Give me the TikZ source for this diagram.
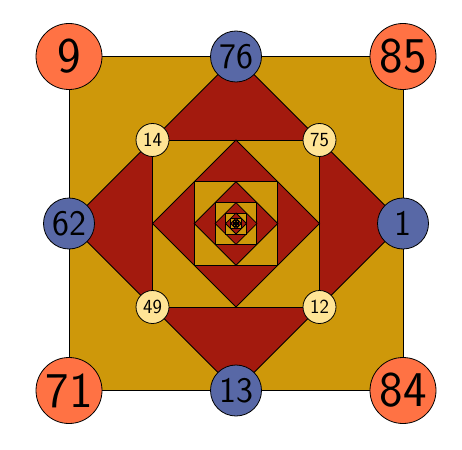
\documentclass[tikz,border=0pt]{standalone}
\usepackage{tikz}
\definecolor{gold}{RGB}{206,152,10}
\definecolor{brick}{RGB}{163,26,14}
\definecolor{coral}{RGB}{255,114,68}
\definecolor{slate}{RGB}{88,104,166}
\definecolor{cream}{RGB}{255,228,150}
\tikzstyle{every node}=[font=\sffamily]
\tikzstyle{corner}=[circle,
                    draw=black,
                    minimum size=66pt,
                    inner sep=0pt,
                    fill=coral,
                    font=\sffamily\fontsize{50}{50}\selectfont]
\tikzstyle{side}=[circle,
                  draw=black,
                  minimum size=51pt,
                  inner sep=0pt,
                  fill=slate,
                  font=\sffamily\fontsize{36}{36}\selectfont]
\tikzstyle{inner}=[circle,
                   draw=black,
                   minimum size=33pt,
                   inner sep=0pt,
                   fill=cream,
                   font=\sffamily\fontsize{20}{20}\selectfont]
\begin{document}
\begin{tikzpicture}[x=1pt,y=-1pt,line width=.8pt]
\useasboundingbox (0,0) rectangle (462,449);
\coordinate (O) at (236,223.5);
% nested squares and diamonds
\foreach \k in {0,...,11}{
  \pgfmathsetmacro{\h}{167/2^\k}
  \draw[fill=gold] ([shift={(-\h,-\h)}]O) -- ([shift={(\h,-\h)}]O)
        -- ([shift={(\h,\h)}]O) -- ([shift={(-\h,\h)}]O) -- cycle;
  \draw[fill=brick] ([shift={(0,-\h)}]O) -- ([shift={(\h,0)}]O)
        -- ([shift={(0,\h)}]O) -- ([shift={(-\h,0)}]O) -- cycle;
}
\node (n9)  [corner] at ([shift={(-167,-167)}]O) {9};
\node (n85) [corner] at ([shift={(167,-167)}]O) {85};
\node (n71) [corner] at ([shift={(-167,167)}]O) {71};
\node (n84) [corner] at ([shift={(167,167)}]O) {84};
\node (n76) [side] at ([shift={(0,-167)}]O) {76};
\node (n1)  [side] at ([shift={(167,0)}]O) {1};
\node (n13) [side] at ([shift={(0,167)}]O) {13};
\node (n62) [side] at ([shift={(-167,0)}]O) {62};
\node (n14) [inner] at ([shift={(-83.5,-83.5)}]O) {14};
\node (n75) [inner] at ([shift={(83.5,-83.5)}]O) {75};
\node (n12) [inner] at ([shift={(83.5,83.5)}]O) {12};
\node (n49) [inner] at ([shift={(-83.5,83.5)}]O) {49};
\end{tikzpicture}
\end{document}
